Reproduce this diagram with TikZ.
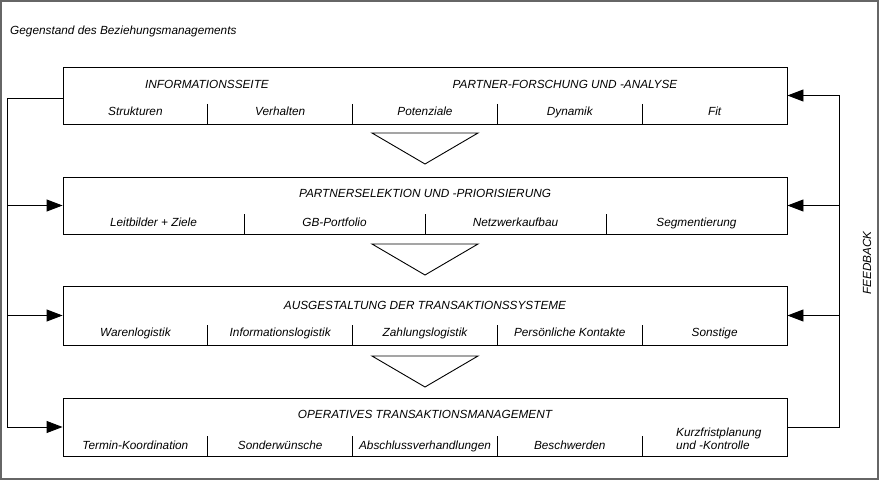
\documentclass[tikz,border=0pt]{standalone}
\usepackage{fontspec}
\setmainfont{Liberation Sans}
\usetikzlibrary{arrows.meta}
\begin{document}
\begin{tikzpicture}[x=1pt,y=-1pt,
  box/.style={draw,line width=0.9pt,minimum width=724pt,inner sep=0pt},
  lbl/.style={font=\fontsize{11.8}{13}\selectfont\itshape,inner sep=0pt,anchor=base},
  div/.style={line width=0.9pt},
  conn/.style={line width=0.9pt},
  arr/.style={conn,-{Triangle[length=16pt,width=12pt]}},
  tri/.style={line width=0.9pt}
]
\useasboundingbox (0,0) rectangle (880,481);
\draw[gray!80!black,line width=1.3pt] (1,1) rectangle (878,479);
\node[lbl,anchor=base west] (head) at (10,35) {Gegenstand des Beziehungsmanagements};

% boxes
\node[box,minimum height=57pt] (b1) at (425,95.5) {};
\node[box,minimum height=57pt] (b2) at (425,205.5) {};
\node[box,minimum height=59pt] (b3) at (425,315.5) {};
\node[box,minimum height=58pt] (b4) at (425,427) {};

% box 1
\node[lbl] (t1a) at (207,89) {INFORMATIONSSEITE};
\node[lbl] (t1b) at (565,89) {PARTNER-FORSCHUNG UND -ANALYSE};
\foreach \i/\t in {0/Strukturen,1/Verhalten,2/Potenziale,3/Dynamik,4/Fit}
  \node[lbl] (s1\i) at ({63+144.8*(\i+0.5)},116) {\t};
\foreach \i in {1,2,3,4}
  \draw[div] ({63+144.8*\i},104) -- ({63+144.8*\i},124);

% box 2
\node[lbl] (t2) at (425,197) {PARTNERSELEKTION UND -PRIORISIERUNG};
\foreach \i/\t in {0/Leitbilder + Ziele,1/GB-Portfolio,2/Netzwerkaufbau,3/Segmentierung}
  \node[lbl] (s2\i) at ({63+181*(\i+0.5)},226) {\t};
\foreach \i in {1,2,3}
  \draw[div] ({63+181*\i},214) -- ({63+181*\i},234);

% box 3
\node[lbl] (t3) at (425,309) {AUSGESTALTUNG DER TRANSAKTIONSSYSTEME};
\foreach \i/\t in {0/Warenlogistik,1/Informationslogistik,2/Zahlungslogistik,3/Persönliche Kontakte,4/Sonstige}
  \node[lbl] (s3\i) at ({63+144.8*(\i+0.5)},336) {\t};
\foreach \i in {1,2,3,4}
  \draw[div] ({63+144.8*\i},325) -- ({63+144.8*\i},345);

% box 4
\node[lbl] (t4) at (425,418) {OPERATIVES TRANSAKTIONSMANAGEMENT};
\foreach \i/\t in {0/Termin-Koordination,1/Sonderwünsche,2/Abschlussverhandlungen,3/Beschwerden}
  \node[lbl] (s4\i) at ({63+144.8*(\i+0.5)},449) {\t};
\node[lbl,anchor=base west] (s44a) at (676,436) {Kurzfristplanung};
\node[lbl,anchor=base west] (s44b) at (676,449) {und -Kontrolle};
\foreach \i in {1,2,3,4}
  \draw[div] ({63+144.8*\i},436) -- ({63+144.8*\i},456);

% triangles
\draw[tri] (372,133) -- (478,133) -- (425,164) -- cycle;
\draw[tri] (372,244) -- (478,244) -- (425,275) -- cycle;
\draw[tri] (372,356) -- (478,356) -- (425,387) -- cycle;

% left connectors
\coordinate (lt) at (7,98);
\coordinate (lb) at (7,427);
\draw[conn] ([yshift=-2.5pt]b1.west) -- (lt) -- (lb);
\draw[arr] (lb) -- (b4.west);
\draw[arr] (b2.west -| lt) -- (b2.west);
\draw[arr] (b3.west -| lt) -- (b3.west);

% right feedback
\coordinate (rb) at (839,427);
\coordinate (rt) at (839,95.5);
\draw[conn] (b4.east) -- (rb) -- (rt);
\draw[arr] (rt) -- (b1.east);
\draw[arr] (b2.east -| rt) -- (b2.east);
\draw[arr] (b3.east -| rt) -- (b3.east);
\node[lbl,rotate=90,anchor=center] (fb) at (867,263) {FEEDBACK};
\end{tikzpicture}
\end{document}
